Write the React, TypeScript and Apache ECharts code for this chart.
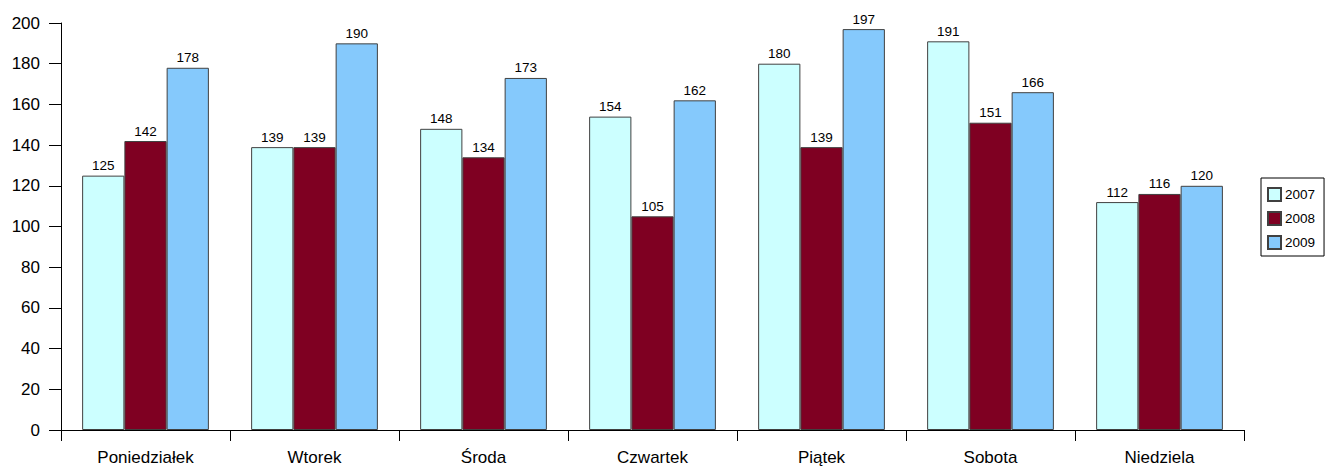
import React, { useEffect, useRef } from "react";
import * as echarts from "echarts";

const categories = ["Poniedziałek", "Wtorek", "Środa", "Czwartek", "Piątek", "Sobota", "Niedziela"];
const seriesNames = ["2007", "2008", "2009"];
const values2007 = [125, 139, 148, 154, 180, 191, 112];
const values2008 = [142, 139, 134, 105, 139, 151, 116];
const values2009 = [178, 190, 173, 162, 197, 166, 120];
const colors = ["#CCFFFF", "#7F0022", "#85C9FC"];

export default function App() {
  const ref = useRef<HTMLDivElement>(null);
  useEffect(() => {
    if (!ref.current) return;
    const chart = echarts.init(ref.current, undefined, { renderer: "svg" });
    const font = "'Liberation Sans', Arial, sans-serif";
    const data = [values2007, values2008, values2009];
    chart.setOption({
      animation: false,
      backgroundColor: "#ffffff",
      grid: { left: 61, right: 86, top: 23, bottom: 38, containLabel: false },
      legend: {
        orient: "vertical",
        left: 1261,
        top: 178,
        data: seriesNames,
        borderColor: "#000",
        borderWidth: 1,
        padding: [9, 9, 6, 6],
        itemWidth: 13,
        itemHeight: 13,
        itemGap: 9,
        icon: "rect",
        textStyle: { fontFamily: font, fontSize: 13.5, color: "#000", padding: [0, 0, 0, -1] },
      },
      xAxis: {
        type: "category",
        data: categories,
        axisLine: { lineStyle: { color: "#000", width: 1 } },
        axisTick: { show: true, length: 11, lineStyle: { color: "#000" } },
        axisLabel: { fontFamily: font, fontSize: 17, color: "#000", margin: 19 },
      },
      yAxis: {
        type: "value",
        min: 0,
        max: 200,
        interval: 20,
        splitLine: { show: false },
        axisLine: { show: true, lineStyle: { color: "#000", width: 1 } },
        axisTick: { show: true, length: 12, lineStyle: { color: "#000" } },
        axisLabel: { fontFamily: font, fontSize: 17, color: "#000", margin: 21 },
      },
      series: seriesNames.map((name, i) => ({
        name,
        type: "bar",
        data: data[i],
        barGap: "0%",
        barCategoryGap: "25%",
        itemStyle: { color: colors[i], borderColor: "#404040", borderWidth: 1 },
        label: {
          show: true,
          position: "top",
          distance: 3,
          fontFamily: font,
          fontSize: 13.5,
          color: "#000",
        },
      })),
    });
    return () => chart.dispose();
  }, []);
  return (
    <div
      ref={ref}
      style={{ position: "absolute", left: 0, top: 0, width: 1330, height: 468 }}
    />
  );
}
